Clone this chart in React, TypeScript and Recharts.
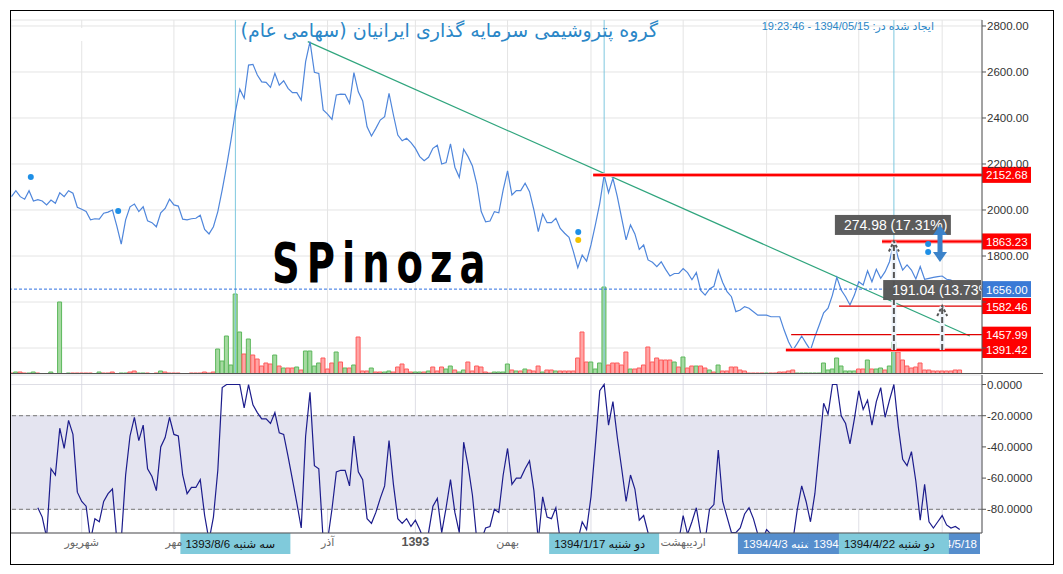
import {
  Bar,
  CartesianGrid,
  Cell,
  ComposedChart,
  Line,
  ReferenceArea,
  ReferenceDot,
  ReferenceLine,
  XAxis,
  YAxis,
} from 'recharts'

// daily closes, one per trading day (last day has no close drawn)
const closes = [
  2058, 2084, 2058, 2047, 2084, 2039, 2045, 2039, 2022, 2043,
  2029, 2075, 2058, 2084, 2073, 2012, 2003, 1994, 1957, 1962,
  1960, 1986, 1991, 2000, 1930, 1852, 1957, 2014, 2026, 1993,
  2014, 1953, 1945, 1927, 1988, 2007, 2047, 2022, 2017, 1960,
  1957, 1962, 1964, 1977, 1916, 1896, 1927, 1993, 2087, 2191,
  2304, 2427, 2525, 2486, 2630, 2633, 2587, 2557, 2555, 2533,
  2594, 2543, 2562, 2529, 2510, 2510, 2478, 2645, 2732, 2599,
  2594, 2435, 2417, 2394, 2500, 2504, 2503, 2464, 2597, 2514,
  2474, 2362, 2322, 2355, 2391, 2406, 2507, 2413, 2326, 2301,
  2312, 2293, 2268, 2232, 2214, 2229, 2268, 2281, 2200, 2206,
  2287, 2186, 2142, 2264, 2232, 2191, 2113, 1993, 1949, 1952,
  1993, 1988, 2087, 2170, 2065, 2084, 2084, 2116, 2080, 2000,
  1906, 1983, 1945, 1945, 1964, 1920, 1899, 1881, 1819, 1749,
  1804, 1778, 1848, 1935, 2029, 2152, 2075, 2138, 2058, 1964,
  1870, 1935, 1896, 1829, 1848, 1783, 1773, 1754, 1775, 1742,
  1713, 1724, 1724, 1745, 1728, 1697, 1728, 1650, 1630, 1657,
  1668, 1739, 1685, 1645, 1623, 1558, 1565, 1580, 1573, 1558,
  1543, 1543, 1543, 1536, 1536, 1536, 1478, 1427, 1391, 1420,
  1452, 1420, 1391, 1449, 1500, 1553, 1573, 1630, 1707, 1652,
  1623, 1587, 1630, 1688, 1674, 1736, 1688, 1742, 1703, 1732,
  1775, 1863, 1790, 1739, 1761, 1739, 1700, 1754, 1699, 1703,
  1707, 1710, 1713, 1699, 1696, 1660, null,
]

const volumes = [
  1, 2, 2, 1, 1, 2, 1, 0, 0, 2,
  0, 72, 0, 1, 1, 1, 1, 1, 1, 0,
  2, 1, 1, 2, 0, 1, 1, 2, 3, 1,
  1, 1, 0, 1, 3, 2, 1, 1, 1, 0,
  0, 1, 1, 1, 2, 1, 2, 25, 13, 38,
  9, 80, 42, 20, 35, 19, 15, 8, 11, 10,
  19, 8, 6, 6, 6, 7, 4, 23, 23, 8,
  11, 16, 5, 11, 22, 12, 6, 6, 9, 37,
  3, 3, 6, 2, 2, 2, 3, 2, 7, 10,
  5, 2, 2, 2, 2, 3, 7, 3, 7, 5,
  8, 4, 2, 4, 12, 3, 8, 7, 2, 1,
  2, 2, 2, 10, 4, 3, 3, 5, 4, 3,
  8, 2, 4, 4, 3, 3, 3, 3, 3, 16,
  42, 12, 12, 5, 11, 87, 9, 11, 11, 9,
  22, 5, 5, 6, 9, 27, 12, 16, 14, 14,
  14, 12, 7, 17, 6, 8, 8, 8, 6, 4,
  2, 9, 3, 3, 7, 7, 4, 3, 1, 1,
  1, 1, 1, 1, 1, 2, 2, 3, 4, 1,
  1, 1, 1, 1, 1, 11, 4, 5, 16, 8,
  3, 3, 3, 5, 5, 14, 5, 5, 6, 4,
  8, 32, 22, 14, 8, 6, 7, 11, 4, 4,
  3, 3, 3, 3, 3, 4, 4,
]

// g = up day, r = down day
const volumeSides = (
  'rgrrggrrrg' + 'rgrgrrrrrr' + 'grrrrggrrg' + 'grrrgrrrrr' + 'rrrrrrrggg' +
  'gggrgrrrrr' + 'grgrrgrggg' + 'grrrgrgrgr' + 'rrgrrggrrr' + 'rrggrgrrrg' +
  'grggrrrrrr' + 'ggggrgrgrr' + 'rgrrgrrrrr' + 'rrggggrrrr' + 'rgrrrrrrrr' +
  'rgrgrrgrrg' + 'rgrrrrrrrr' + 'rrgrrrrrrg' + 'gggggggggg' + 'gggrrgrggr' +
  'ggrrrrrrrr' + 'rrrrrrr'
).split('')

const williamsR = [
  null, null, null, null, null, null, -79, -85, -98, -54,
  -58, -28, -41, -23, -32, -69, -75, -78, -100, -86,
  -88, -75, -70, -67, -100, -100, -58, -33, -21, -36,
  -26, -54, -59, -68, -40, -34, -21, -32, -33, -58,
  -70, -66, -66, -61, -84, -100, -85, -55, -2, 0,
  0, 0, 0, -15, 0, -13, -18, -22, -22, -25,
  -18, -31, -32, -46, -61, -76, -92, -33, -5, -52,
  -54, -100, -100, -80, -56, -55, -55, -65, -33, -56,
  -61, -86, -89, -82, -73, -65, -36, -64, -86, -89,
  -86, -91, -87, -93, -100, -95, -78, -73, -95, -79,
  -61, -82, -95, -37, -52, -71, -100, -100, -92, -91,
  -80, -82, -58, -41, -64, -60, -60, -54, -49, -68,
  -100, -72, -85, -86, -79, -100, -100, -100, -100, -100,
  -88, -93, -72, -39, -4, 0, -26, -11, -34, -54,
  -75, -58, -67, -87, -84, -95, -100, -100, -100, -100,
  -100, -100, -100, -84, -96, -88, -79, -96, -100, -80,
  -77, -42, -75, -85, -95, -95, -92, -83, -79, -86,
  -96, -100, -93, -96, -100, -100, -100, -100, -100, -80,
  -65, -75, -88, -70, -41, -12, -19, 0, 0, -20,
  -25, -38, -22, -4, -16, -10, -26, -11, -2, -21,
  -10, 0, -27, -48, -52, -43, -62, -87, -64, -88,
  -92, -88, -84, -90, -92, -91, -93,
]

// month starts; the last ones sit under the date tags and show no label
const monthTicks = [16, 37, 72, 92, 113, 132, 153, 172, 193, 212]
const monthNames = ['شهریور', 'مهر', 'آذر', '1393', 'بهمن', '', 'اردیبهشت', '', '', '']
const priceTicks = [1400, 1600, 1800, 2000, 2200, 2400, 2600, 2800]
const oscTicks = [0, -20, -40, -60, -80]

const levelPrices = [2152.68, 1863.23, 1582.46, 1457.99, 1391.42]
const levelFromDay = [132.5, 198.3, 188.5, 177.6, 176.4]
const levelHeavy = [true, true, false, false, true]
const lastPrice = 1656

const markedDays = [51, 135, 201]
const trendDays = [67.5, 218.3]
const trendPrices = [2732, 1452]

const moveDays = [201, 212]
const moveFrom = [1391.42, 1391.42]
const moveTo = [1863.23, 1582.46]
const moveLabels = ['274.98 (17.31%)', '191.04 (13.73%)']
const moveLabelPrices = [1935, 1652]

const arrowDay = 211.5
const arrowTop = 1935
const arrowBottom = 1774

const dotDays = [4.4, 24.3, 129.1, 129.1, 208.8, 208.8]
const dotPrices = [2143, 1996, 1904, 1870, 1852, 1817]
const dotColors = ['#1e8fe6', '#1e8fe6', '#1e8fe6', '#f2c200', '#1e8fe6', '#1e8fe6']

const tagDays = [51, 135, 178, 194, 216, 201]
const tagTexts = ['1393/8/6  سه شنبه', '1394/1/17  دو شنبه', '1394/4/3  چهار شنبه', '1394', '1394/5/18', '1394/4/22  دو شنبه']
const tagTones = ['cyan', 'cyan', 'blue', 'blue', 'blue', 'cyan']

const W = 1063
const AXIS_W = 60
const RIGHT = 21
const PLOT_RIGHT = W - RIGHT - AXIS_W
const dayDomain: [number, number] = [-0.11, 221.07]
const FONT = "'Liberation Sans', 'DejaVu Sans', sans-serif"

const rows = closes.map((close, i) => ({
  day: i,
  close,
  volume: volumes[i],
  side: volumeSides[i],
  wr: williamsR[i],
}))

function LevelTag({ viewBox, text, fill }: any) {
  const right = viewBox.x + viewBox.width
  return (
    <g>
      <rect x={right} y={viewBox.y - 8} width={49} height={16} fill={fill} />
      <text x={right + 4} y={viewBox.y + 4.5} fill="#fff" fontSize={11.5} fontFamily={FONT}>
        {text}
      </text>
    </g>
  )
}

function MoveBox({ cx, cy, text, id }: any) {
  return (
    <g clipPath={`url(#${id})`}>
      <defs>
        <clipPath id={id}>
          <rect x={0} y={0} width={PLOT_RIGHT - 1} height={400} />
        </clipPath>
      </defs>
      <rect x={cx - 59} y={cy - 10} width={116} height={20} fill="#555" fillOpacity={0.96} />
      <text x={cx - 50} y={cy + 5} fill="#fff" fontSize={14} fontFamily={FONT}>
        {text}
      </text>
    </g>
  )
}

function ArrowHead({ cx, cy }: any) {
  return (
    <polyline
      points={`${cx - 5},${cy + 10} ${cx},${cy} ${cx + 5},${cy + 10}`}
      fill="none"
      stroke="#555"
      strokeWidth={2}
      strokeDasharray="3 2"
    />
  )
}

function BlueHead({ cx, cy, down }: any) {
  const d = down ? -1 : 1
  return <polygon points={`${cx},${cy} ${cx - 7},${cy + 10 * d} ${cx + 7},${cy + 10 * d}`} fill="#3b82c9" />
}

function DateTag({ viewBox, text, tone }: any) {
  const cx = viewBox.x
  const bottom = viewBox.y + viewBox.height
  const right = Math.min(cx + 55, PLOT_RIGHT - 2)
  const left = right - 110
  const blue = tone === 'blue'
  const alignEnd = cx + 55 > PLOT_RIGHT - 2
  return (
    <g>
      <line x1={cx} x2={cx} y1={bottom} y2={bottom + 4} stroke="#333" />
      <rect x={left} y={bottom} width={110} height={21} fill={blue ? '#568ecd' : '#80cadb'} />
      <text
        x={alignEnd ? right - 3 : left + 5}
        y={bottom + 15}
        textAnchor={alignEnd ? 'end' : 'start'}
        fill={blue ? '#fff' : '#111'}
        fontSize={11.5}
        fontFamily={FONT}
      >
        {text}
      </text>
    </g>
  )
}

function MonthTick({ x, y, payload }: any) {
  const name = monthNames[monthTicks.indexOf(payload.value)]
  if (!name) return <g />
  const isYear = /^\d+$/.test(name)
  return (
    <text
      x={x}
      y={y + 5}
      textAnchor="middle"
      fontSize={isYear ? 12.5 : 11}
      fontWeight={isYear ? 700 : 400}
      fill={isYear ? '#555' : '#666'}
      fontFamily={FONT}
    >
      {name}
    </text>
  )
}

export default function App() {
  return (
    <div style={{ position: 'absolute', left: 0, top: 0, width: W, height: 574, background: '#fff' }}>
      <div style={{ position: 'absolute', left: 0, top: 0 }}>
        <ComposedChart width={W} height={376} data={rows} margin={{ top: 20, right: RIGHT, bottom: 2, left: 11 }}>
          <CartesianGrid yAxisId="price" stroke="#e4e4e4" />
          <XAxis dataKey="day" type="number" domain={dayDomain} allowDataOverflow ticks={monthTicks} hide />
          <YAxis
            yAxisId="price"
            orientation="right"
            width={AXIS_W}
            domain={[1287, 2826]}
            allowDataOverflow
            ticks={priceTicks}
            interval={0}
            tickSize={4}
            tickMargin={1}
            stroke="#555"
            tick={{ fill: '#333', fontSize: 11.5, fontFamily: FONT }}
            tickFormatter={(v: number) => (v >= 1800 ? v.toFixed(2) : '')}
          />
          <YAxis yAxisId="vol" hide domain={[0, 354]} allowDataOverflow />
          <Bar yAxisId="vol" dataKey="volume" barSize={4} isAnimationActive={false}>
            {rows.map((r) => (
              <Cell
                key={r.day}
                fill={r.side === 'g' ? '#a6d9a1' : '#ffa5a5'}
                stroke={r.side === 'g' ? '#5cb85c' : '#ff5a5a'}
              />
            ))}
          </Bar>
          {markedDays.map((d) => (
            <ReferenceLine key={'m' + d} yAxisId="price" x={d} stroke="#7ec8df" />
          ))}
          <ReferenceLine
            yAxisId="price"
            segment={[
              { x: trendDays[0], y: trendPrices[0] },
              { x: trendDays[1], y: trendPrices[1] },
            ]}
            stroke="#2fa57d"
            strokeWidth={1.2}
          />
          <Line
            yAxisId="price"
            dataKey="close"
            stroke="#4f86db"
            strokeWidth={1.2}
            dot={false}
            isAnimationActive={false}
          />
          <ReferenceLine
            yAxisId="price"
            y={lastPrice}
            stroke="#2f6fe0"
            strokeDasharray="3 2"
            label={<LevelTag text={lastPrice.toFixed(2)} fill="#3a7ad6" />}
          />
          {levelPrices.map((p, i) =>
            levelHeavy[i] ? (
              <ReferenceLine
                key={'hh' + p}
                yAxisId="price"
                segment={[
                  { x: levelFromDay[i], y: p },
                  { x: dayDomain[1], y: p },
                ]}
                stroke="#ff9a9a"
                strokeWidth={4}
              />
            ) : null,
          )}
          {levelPrices.map((p, i) => (
            <ReferenceLine
              key={'l' + p}
              yAxisId="price"
              segment={[
                { x: levelFromDay[i], y: p },
                { x: dayDomain[1], y: p },
              ]}
              stroke={levelHeavy[i] ? '#ff0000' : '#e00000'}
              strokeWidth={levelHeavy[i] ? 2 : 1.2}
              label={<LevelTag text={p.toFixed(2)} fill="#ff0000" />}
            />
          ))}
          {moveDays.map((d, i) => (
            <ReferenceDot
              key={'mb' + d}
              yAxisId="price"
              x={d}
              y={moveLabelPrices[i]}
              shape={(p: any) => <MoveBox {...p} text={moveLabels[i]} id={'move-clip-' + i} />}
            />
          ))}
          {moveDays.map((d, i) => (
            <ReferenceLine
              key={'mh' + d}
              yAxisId="price"
              segment={[
                { x: d, y: moveFrom[i] },
                { x: d, y: moveTo[i] },
              ]}
              stroke="#eef4fb"
              strokeWidth={5}
            />
          ))}
          {moveDays.map((d, i) => (
            <ReferenceLine
              key={'ml' + d}
              yAxisId="price"
              segment={[
                { x: d, y: moveFrom[i] },
                { x: d, y: moveTo[i] },
              ]}
              stroke="#555"
              strokeWidth={2}
              strokeDasharray="6 3"
            />
          ))}
          {moveDays.map((d, i) => (
            <ReferenceDot key={'ma' + d} yAxisId="price" x={d} y={moveTo[i]} shape={ArrowHead} />
          ))}
          <ReferenceLine
            yAxisId="price"
            segment={[
              { x: arrowDay, y: arrowTop - 20 },
              { x: arrowDay, y: arrowBottom + 20 },
            ]}
            stroke="#3b82c9"
            strokeWidth={5}
          />
          <ReferenceDot yAxisId="price" x={arrowDay} y={arrowTop} shape={(p: any) => <BlueHead {...p} />} />
          <ReferenceDot yAxisId="price" x={arrowDay} y={arrowBottom} shape={(p: any) => <BlueHead {...p} down />} />
          {dotDays.map((d, i) => (
            <ReferenceDot key={'d' + i} yAxisId="price" x={d} y={dotPrices[i]} r={3} fill={dotColors[i]} stroke="none" />
          ))}
        </ComposedChart>
      </div>

      <div style={{ position: 'absolute', left: 0, top: 375 }}>
        <ComposedChart width={W} height={180} data={rows} margin={{ top: 0, right: RIGHT, bottom: 0, left: 11 }}>
          <ReferenceArea y1={-80} y2={-20} fill="#e4e4f0" fillOpacity={1} stroke="none" />
          <CartesianGrid stroke="#d6d6de" strokeOpacity={0.8} />
          <XAxis
            dataKey="day"
            type="number"
            domain={dayDomain}
            allowDataOverflow
            ticks={monthTicks}
            interval={0}
            height={22}
            tickLine={false}
            axisLine={{ stroke: '#555' }}
            tick={<MonthTick />}
          />
          <YAxis
            orientation="right"
            width={AXIS_W}
            domain={[-95.2, 6.1]}
            allowDataOverflow
            ticks={oscTicks}
            interval={0}
            tickSize={4}
            tickMargin={1}
            stroke="#555"
            tick={{ fill: '#333', fontSize: 11.5, fontFamily: FONT }}
            tickFormatter={(v: number) => v.toFixed(4)}
          />
          <ReferenceLine y={-20} stroke="#777" strokeDasharray="4 3" />
          <ReferenceLine y={-80} stroke="#777" strokeDasharray="4 3" />
          <Line dataKey="wr" stroke="#1c1c8c" strokeWidth={1.2} dot={false} isAnimationActive={false} />
          {tagDays.map((d, i) => (
            <ReferenceLine
              key={'t' + d}
              x={d}
              stroke="none"
              label={<DateTag text={tagTexts[i]} tone={tagTones[i]} />}
            />
          ))}
        </ComposedChart>
      </div>

      <div style={{ position: 'absolute', left: 11, top: 373, width: 1032, height: 1, background: '#555' }} />
      <div style={{ position: 'absolute', left: 12, top: 28, width: 146, height: 13, background: '#fff' }} />
      <div
        style={{
          position: 'absolute',
          right: W - 658,
          top: 19,
          fontFamily: "'DejaVu Sans', sans-serif",
          fontSize: 19,
          color: '#2b87c7',
          direction: 'rtl',
          whiteSpace: 'nowrap',
        }}
      >
        گروه پتروشیمی سرمایه گذاری ایرانیان (سهامی عام)
      </div>
      <div
        style={{
          position: 'absolute',
          right: W - 934,
          top: 20,
          fontFamily: FONT,
          fontSize: 11,
          color: '#2b87c7',
          direction: 'rtl',
          whiteSpace: 'nowrap',
        }}
      >
        ایجاد شده در: 1394/05/15 - 19:23:46
      </div>
      <div
        style={{
          position: 'absolute',
          left: 272,
          top: 236,
          fontFamily: "'DejaVu Sans', sans-serif",
          fontWeight: 700,
          fontSize: 55,
          letterSpacing: 10,
          lineHeight: 1,
          color: '#000',
          transform: 'scaleX(0.7)',
          transformOrigin: 'left top',
          whiteSpace: 'nowrap',
        }}
      >
        SPinoza
      </div>
      <div
        style={{
          position: 'absolute',
          left: 10,
          top: 10,
          width: 1044,
          height: 555,
          border: '1px solid #000',
          boxSizing: 'border-box',
        }}
      />
    </div>
  )
}
